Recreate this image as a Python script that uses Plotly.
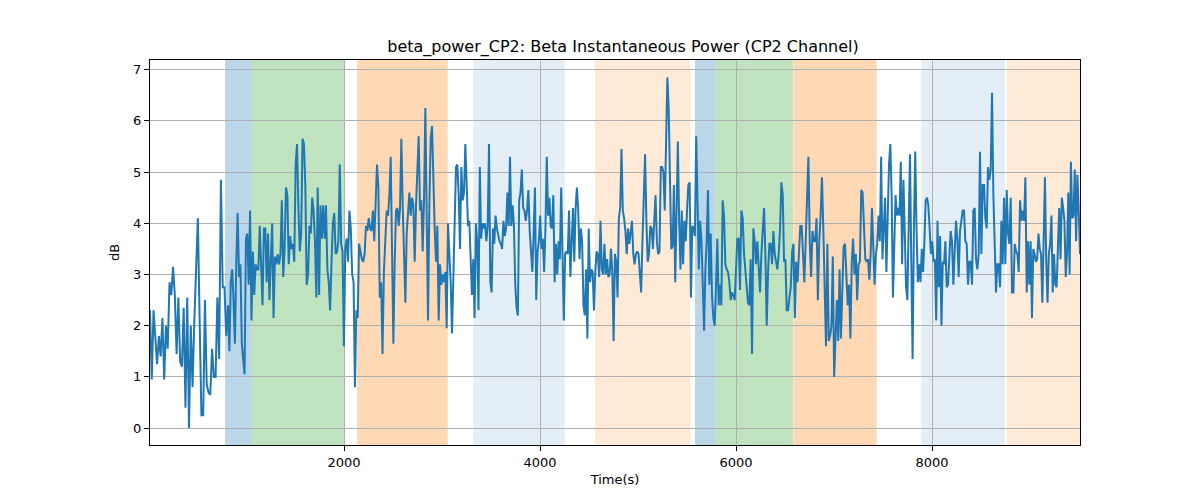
import numpy as np
import plotly.graph_objects as go

# Beta power (dB), grouped in consecutive time chunks
chunk_edges_s = [20, 816, 1633, 2449, 3265, 4082, 4898, 5714, 6531, 7347, 8163, 8980, 9510]

power_chunks = [
    [2.3, 0.95, 2.3, 1.75, 1.25, 1.8, 1.4, 2.15, 0.95, 2.0, 1.55, 2.85, 2.6, 3.15, 2.6,
     1.45, 2.55, 1.3, 1.2, 2.35, 0.4, 2.55, 0.0, 2.0, 0.8, 2.1, 3.1, 4.1, 2.1, 0.25,
     0.25, 2.5, 0.85, 0.7, 0.65, 1.55, 1.0, 1.0, 2.55, 1.35, 4.85, 2.75, 2.75, 1.8],
    [2.4, 1.5, 2.85, 3.1, 2.5, 1.65, 3.25, 4.2, 2.95, 3.2, 1.65, 1.35, 1.05, 3.7, 3.8,
     2.8, 4.25, 2.1, 3.45, 2.6, 3.2, 3.1, 3.1, 3.95, 3.25, 2.4, 3.9, 3.9, 2.85, 3.8,
     2.5, 3.1, 4.0, 2.15, 3.35, 3.2, 3.4, 3.2, 3.4, 4.45, 2.95, 3.5, 4.7, 4.55, 3.2,
     3.75, 3.5, 3.6, 3.25, 5.15, 5.55, 4.3, 3.45, 3.8, 5.65, 5.55, 4.75, 2.8],
    [3.0, 3.95, 3.8, 4.5, 4.25, 3.65, 2.55, 4.7, 2.6, 4.35, 3.7, 4.35, 3.7, 4.35, 3.1,
     2.85, 2.3, 3.25, 4.0, 4.2, 3.4, 3.45, 3.65, 5.15, 3.6, 3.45, 1.6, 3.5, 3.7, 3.25,
     4.25, 3.9, 3.0, 2.85, 0.8, 2.3, 2.15, 3.6, 3.45, 3.3, 3.25, 3.4, 3.95, 3.85, 4.1,
     3.9, 3.85, 4.25, 3.65, 4.25, 5.15, 4.7, 2.55, 2.85, 1.45, 3.05, 3.65, 4.25],
    [4.15, 4.55, 5.3, 3.65, 1.65, 3.25, 4.25, 4.3, 3.95, 4.3, 5.65, 4.35, 3.3, 2.45, 3.8,
     4.35, 4.6, 4.15, 4.5, 4.35, 3.25, 4.35, 5.1, 5.7, 4.25, 4.45, 3.45, 4.45, 6.25, 4.55,
     2.1, 4.35, 5.65, 5.9, 4.7, 3.9, 3.25, 3.95, 2.1, 3.2, 2.8, 3.0, 2.85, 3.05, 1.95,
     4.0, 3.4, 2.85, 1.85, 3.1, 4.55, 5.1, 5.15, 4.55, 3.5, 5.1, 4.45, 4.6, 5.55, 4.45],
    [3.95, 4.05, 3.4, 2.6, 3.3, 2.15, 4.0, 3.65, 2.3, 5.1, 3.7, 4.0, 3.9, 4.0, 3.65,
     3.95, 5.55, 2.85, 2.65, 3.9, 3.6, 4.15, 3.9, 3.75, 3.65, 3.6, 3.5, 4.05, 3.75, 3.9,
     4.6, 3.95, 5.3, 3.95, 4.35, 3.95, 2.8, 2.35, 2.2, 4.45, 4.6, 5.05, 4.3, 4.25, 4.05,
     4.25, 4.65, 3.85, 3.5, 3.05, 3.8, 4.7, 2.5, 3.45, 3.65, 4.15, 3.5, 3.7, 3.05, 3.9,
     5.3],
    [4.15, 4.5, 3.95, 3.9, 4.55, 2.85, 3.6, 3.0, 3.65, 3.3, 4.7, 3.4, 2.1, 3.4, 3.45,
     3.4, 4.25, 2.95, 3.65, 4.3, 3.25, 4.3, 4.7, 4.25, 3.3, 3.9, 3.65, 2.4, 2.2, 3.1,
     1.75, 3.9, 2.85, 3.1, 3.05, 2.3, 3.05, 3.45, 3.4, 2.95, 4.05, 3.1, 3.0, 3.6, 3.0,
     3.3, 2.95, 3.0, 3.5, 3.05, 1.7, 3.4, 3.25, 2.55, 4.1, 4.3, 5.45, 4.25, 4.1, 3.85,
     3.4],
    [3.9, 3.6, 3.9, 4.05, 3.4, 3.2, 3.4, 3.45, 3.4, 3.1, 2.65, 3.65, 4.5, 5.35, 4.05,
     3.25, 3.4, 3.95, 3.9, 3.5, 4.05, 4.55, 3.65, 3.4, 3.45, 5.1, 5.1, 5.0, 4.25, 5.8,
     6.85, 6.25, 4.7, 3.5, 3.55, 4.75, 2.85, 4.7, 5.6, 4.05, 3.1, 4.25, 3.2, 4.05, 3.65,
     4.25, 4.75, 4.8, 2.55, 3.95, 3.9, 3.75, 5.7, 4.45, 3.1, 4.05, 3.65, 2.8, 1.9, 3.1,
     3.65],
    [4.65, 2.8, 3.8, 2.6, 2.15, 2.0, 2.75, 3.7, 2.4, 2.8, 2.4, 4.45, 4.15, 3.2, 3.1,
     3.05, 2.85, 2.5, 2.65, 2.6, 2.5, 3.1, 3.7, 3.7, 2.7, 4.25, 4.1, 3.4, 3.05, 2.85,
     2.45, 2.4, 3.3, 1.45, 3.9, 3.65, 3.2, 3.65, 3.1, 2.65, 3.4, 3.85, 4.3, 3.4, 2.0,
     3.05, 3.6, 3.6, 3.2, 3.85, 3.4, 3.25, 3.1, 3.4, 3.9, 4.8, 4.55, 3.25, 3.3, 2.3],
    [2.3, 2.55, 2.75, 3.45, 3.6, 2.15, 3.25, 2.85, 3.4, 3.95, 3.95, 3.25, 2.85, 3.65, 4.45,
     5.3, 3.65, 2.95, 3.85, 3.65, 3.65, 4.1, 2.5, 3.65, 4.15, 4.9, 3.9, 2.6, 1.6, 3.6,
     1.7, 1.8, 2.0, 3.35, 1.0, 1.75, 2.5, 1.7, 3.1, 1.75, 2.85, 3.55, 3.6, 3.05, 2.4,
     2.8, 1.75, 3.25, 3.7, 3.0, 3.4, 2.5, 3.2, 3.25, 4.65, 4.6, 3.95, 3.3, 3.25],
    [3.3, 2.9, 3.4, 4.3, 3.4, 2.8, 3.4, 3.6, 4.15, 3.65, 5.3, 3.3, 3.9, 4.5, 3.05,
     4.15, 5.15, 5.55, 4.55, 2.55, 3.6, 4.55, 4.15, 4.3, 4.15, 5.2, 3.2, 4.85, 3.85, 2.75,
     2.5, 4.05, 5.35, 3.25, 1.35, 3.9, 5.4, 3.9, 2.85, 3.2, 2.85, 3.5, 3.05, 3.65, 4.45,
     4.5, 4.35, 3.9, 3.4, 3.65, 3.25, 3.3, 2.1, 4.05, 2.75, 3.75, 2.0, 3.25, 3.2, 3.65,
     2.75],
    [2.8, 3.3, 3.85, 3.65, 2.8, 3.45, 4.05, 3.7, 2.95, 3.85, 4.05, 4.25, 4.25, 3.65, 3.6,
     2.8, 3.25, 3.25, 2.8, 4.25, 4.3, 3.3, 3.1, 3.4, 5.4, 3.4, 4.75, 4.75, 4.1, 3.9,
     5.1, 4.85, 5.05, 6.55, 4.55, 3.5, 2.65, 3.2, 3.2, 2.75, 4.05, 3.2, 4.5, 3.2, 4.65,
     3.8, 3.6, 4.5, 2.65, 2.65, 3.6, 3.45, 3.4, 3.05, 4.45, 4.05, 4.25, 4.05, 4.9, 2.65],
    [3.65, 2.8, 3.65, 2.15, 3.5, 3.4, 3.25, 3.3, 3.8, 3.5, 3.4, 2.45, 3.85, 4.9, 3.25,
     2.45, 3.4, 3.6, 4.15, 2.65, 3.4, 2.8, 2.75, 3.8, 4.3, 3.3, 4.5, 4.3, 4.05, 2.95,
     3.4, 4.6, 3.0, 5.2, 4.1, 4.15, 5.05, 3.65, 4.95, 4.25, 3.4],
]

# Annotated epochs (time ranges in s)
span_start = [786, 1051, 2133, 3318, 4561, 5582, 5788, 6586, 7890, 8765]
span_end = [1051, 2000, 3058, 4252, 5531, 5788, 6582, 7434, 8745, 9510]
span_color = ["#1f77b4", "#2ca02c", "#ff7f0e", "#1f77b4", "#ff7f0e",
              "#1f77b4", "#2ca02c", "#ff7f0e", "#1f77b4", "#ff7f0e"]
span_alpha = [0.3, 0.3, 0.3, 0.12, 0.16, 0.3, 0.3, 0.3, 0.12, 0.16]

x_ticks = [2000, 4000, 6000, 8000]
y_ticks = [0, 1, 2, 3, 4, 5, 6, 7]

times, power = [], []
n_chunks = len(power_chunks)
for i, vals in enumerate(power_chunks):
    last = i == n_chunks - 1
    t = np.linspace(chunk_edges_s[i], chunk_edges_s[i + 1], len(vals), endpoint=last)
    times.extend(t.tolist())
    power.extend(vals)

fig = go.Figure()

for s, e, c, a in zip(span_start, span_end, span_color, span_alpha):
    fig.add_vrect(x0=s, x1=e, fillcolor=c, opacity=a, line_width=0, layer="below")

fig.add_trace(go.Scatter(
    x=times, y=power, mode="lines",
    line=dict(color="#1f77b4", width=2),
    showlegend=False,
))

axis_common = dict(
    showline=True, mirror=True, linecolor="black", linewidth=1,
    ticks="outside", ticklen=5, tickcolor="black",
    showgrid=True, gridcolor="#b0b0b0", gridwidth=1,
    zeroline=False, tickfont=dict(size=13, color="black"),
)

# page body adds an 8px offset, so margins are shifted to compensate
fig.update_layout(
    width=1200, height=500,
    margin=dict(l=142, r=128, t=52, b=63),
    paper_bgcolor="white", plot_bgcolor="white",
    font=dict(family="DejaVu Sans", color="black"),
    title=dict(
        text="beta_power_CP2: Beta Instantaneous Power (CP2 Channel)",
        x=0.5125, xanchor="center", y=0.924, yanchor="middle",
        font=dict(size=16, color="black"),
    ),
    xaxis=dict(range=[20, 9510], tickvals=x_ticks,
               title=dict(text="Time(s)", font=dict(size=13), standoff=6),
               **axis_common),
    yaxis=dict(range=[-0.33, 7.19], tickvals=y_ticks,
               title=dict(text="dB", font=dict(size=13), standoff=10),
               **axis_common),
)

fig.write_html("out.html")
